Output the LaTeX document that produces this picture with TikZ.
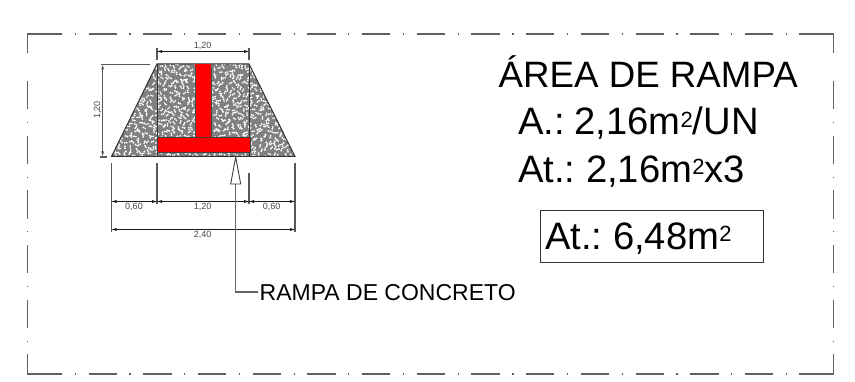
\documentclass[tikz,border=0pt]{standalone}
\usepackage{fontspec}
\usetikzlibrary{arrows.meta}
\setmainfont{Liberation Sans}
\newcommand{\sqr}{\raisebox{7.7pt}{\fontsize{22}{22}\selectfont 2}}
\begin{document}
\begin{tikzpicture}[x=1pt,y=-1pt,
  sheet/.style={draw=black!62,line width=1.1pt,dash pattern=on 28.3pt off 12.6pt on 1.2pt off 12.6pt},
  sheetc/.style={draw=black!62,line width=1.1pt},
  dimline/.style={draw=black!90,line width=.9pt},
  extline/.style={draw=black!65,line width=1.1pt},
  dimtext/.style={font=\fontsize{9}{10}\selectfont,text=black!72,inner sep=0pt},
  bigtext/.style={inner sep=0pt,anchor=base west,text=black,font=\fontsize{38.2}{40}\selectfont},
  dimarrow/.style={{Latex[length=6pt,width=3pt]}-{Latex[length=6pt,width=3pt]},shorten <=-1pt,shorten >=-1pt}]
\useasboundingbox (0,0) rectangle (855,382);
\fill[white] (0,0) rectangle (855,382);
% sheet border
\path[sheet] (33.8,34) -- (799.3,34);
\path[sheet] (33.8,374) -- (799.3,374);
\path[sheet] (27.5,81) -- (27.5,355);
\path[sheet] (833.5,81) -- (833.5,355);
\path[sheetc] (27.5,53.5) -- (27.5,34) -- (33.8,34);
\path[sheetc] (27.5,355) -- (27.5,374) -- (33.8,374);
\path[sheetc] (799.3,34) -- (833.5,34) -- (833.5,53.5);
\path[sheetc] (799.3,374) -- (833.5,374) -- (833.5,355);
% ramp
\coordinate (tl) at (157,64);
\coordinate (tr) at (249,64);
\coordinate (br) at (295,156.5);
\coordinate (bl) at (111.5,156.5);
\fill[black!50] (tl) -- (tr) -- (br) -- (bl) -- cycle;
\begin{scope}
\clip (tl) -- (tr) -- (br) -- (bl) -- cycle;
\pgfmathsetseed{4711}
\foreach \gx in {110,114.5,...,296}{
  \foreach \gy in {63,67.5,...,158}{
    \pgfmathsetmacro{\px}{\gx+4*rnd}
    \pgfmathsetmacro{\py}{\gy+4*rnd}
    \pgfmathsetmacro{\ang}{360*rnd}
    \fill[white] (\px,\py) circle[radius=1.05pt] ++(\ang:2pt) circle[radius=.95pt];
  }
}
\end{scope}
\draw[black!80,line width=1pt] (tl) -- (tr) -- (br) -- (bl) -- cycle;
\draw[black!80,line width=.9pt] (tl) -- (157,156.5) (tr) -- (249,156.5);
% T-shaped red
\fill[red] (195.4,64) rectangle (211.3,137);
\draw[black!70,line width=.4pt] (195.4,67) -- (195.4,137) (211.3,67) -- (211.3,137);
\filldraw[fill=red,draw=black!75,line width=.7pt] (157,137) rectangle (250.3,152.7);
% dims top
\coordinate (dt1) at (157,51.5);
\coordinate (dt2) at (249,51.5);
\draw[extline] (157,48) -- (157,60) (249,48) -- (249,60);
\draw[dimline,dimarrow] (dt1) -- (dt2);
\node[dimtext] (t120a) at (202.7,45.7) {1,20};
% dims left
\draw[extline] (101,64.5) -- (150,64.5) (100,157) -- (107,157);
\draw[extline,dimarrow] (102.7,64.5) -- (102.7,156.5);
\node[dimtext,rotate=90] (t120b) at (97.5,110) {1,20};
% dims bottom
\draw[extline] (111.5,163) -- (111.5,232) (157,163) -- (157,204) (249,173) -- (249,204) (295,163) -- (295,232);
\draw[dimline,dimarrow] (111.5,201.5) -- (157,201.5);
\draw[dimline,dimarrow] (157,201.5) -- (249,201.5);
\draw[dimline,dimarrow] (249,201.5) -- (295,201.5);
\draw[dimline,dimarrow] (111.5,229.5) -- (295,229.5);
\node[dimtext] (t060a) at (134,206.7) {0,60};
\node[dimtext] (t120c) at (202.7,206.7) {1,20};
\node[dimtext] (t060b) at (271.7,206.7) {0,60};
\node[dimtext] (t240) at (202.7,235) {2,40};
% leader
\node[inner sep=0pt,anchor=west,font=\fontsize{23}{24}\selectfont] (lab) at (259.5,292.5) {RAMPA DE CONCRETO};
\coordinate (lk) at (235.7,292);
\coordinate (lb) at (235.7,184);
\draw[black!60,line width=1.1pt] (258,292) -- (lk) -- (lb);
\draw[black!75,line width=.9pt,fill=white] (235.7,157) -- (240.7,184) -- (230.7,184) -- cycle;
% texts
\node[bigtext,font=\fontsize{36.7}{40}\selectfont] (ta) at (498.5,87.3) {ÁREA DE RAMPA};
\node[bigtext] (tb) at (518,135) {A.:\hspace{9.5pt}2,16m\sqr/UN};
\node[bigtext] (tc) at (518,182.7) {At.:\hspace{10.6pt}2,16m\sqr x3};
\node[bigtext] (td) at (545,249.3) {At.:\hspace{10.6pt}6,48m\sqr};
\node[draw=black!80,line width=.8pt,minimum width=223pt,minimum height=52pt,inner sep=0pt] (boxd) at (652.2,236.7) {};
\end{tikzpicture}
\end{document}
